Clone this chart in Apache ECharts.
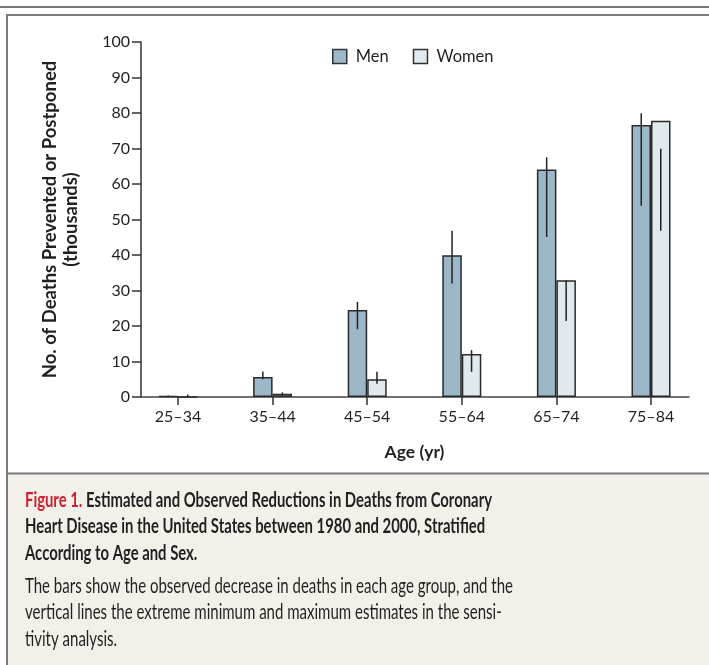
<!DOCTYPE html>
<html>
<head>
<meta charset="utf-8">
<script src="https://cdn.jsdelivr.net/npm/echarts@6/dist/echarts.min.js"></script>
<style>
html,body{margin:0;padding:0;background:#fff;}
#chart{width:709px;height:665px;}
</style>
</head>
<body>
<div id="chart"></div>
<script>
// ---- data ----
const categories = ['25–34', '35–44', '45–54', '55–64', '65–74', '75–84'];
const men        = [0.3, 5.6, 24.5, 39.9, 64.1, 76.6];
const women      = [0, 0.9, 5.0, 12.1, 32.9, 77.8];
const menLow     = [0.1, 5.0, 19.1, 32.0, 45.1, 53.9];
const menHigh    = [0.4, 7.2, 26.8, 46.8, 67.5, 79.9];
const womenLow   = [0.1, 0.0, 3.7, 7.1, 21.4, 46.8];
const womenHigh  = [0.7, 1.3, 7.1, 13.2, 32.9, 69.9];
const yTicks     = { min: 0, max: 100, interval: 10 };

const captionBold = [
  ['Figure 1.', ' Estimated and Observed Reductions in Deaths from Coronary'],
  ['', 'Heart Disease in the United States between 1980 and 2000, Stratified'],
  ['', 'According to Age and Sex.']
];
const captionText = [
  'The bars show the observed decrease in deaths in each age group, and the',
  'vertical lines the extreme minimum and maximum estimates in the sensi-',
  'tivity analysis.'
];

// ---- layout constants ----
const FONT = 'Lato';
const BAR_W = 19.5;
const plotTop = 42, plotH = 355;
const axisLeft = 141, axisW = 548;
const bandLeft = 130.7, bandW = 567.6;
const CAP_FS = 20.5;

const chart = echarts.init(document.getElementById('chart'), null, { renderer: 'canvas' });

// width fitting for caption (condensed look)
const mctx = document.createElement('canvas').getContext('2d');
mctx.font = 'bold ' + CAP_FS + 'px ' + FONT;
const boldScale = 467 / mctx.measureText(captionBold[0][0] + captionBold[0][1]).width;
mctx.font = CAP_FS + 'px ' + FONT;
const regScale = 488 / mctx.measureText(captionText[0]).width;

const capGraphics = [];
const boldYs = [500, 526.5, 553];
captionBold.forEach((ln, i) => {
  capGraphics.push({
    type: 'text', x: 25, y: boldYs[i], scaleX: boldScale, z: 10,
    style: {
      text: (ln[0] ? '{r|' + ln[0] + '}' : '') + '{b|' + ln[1] + '}',
      verticalAlign: 'middle', align: 'left',
      rich: {
        r: { fontFamily: FONT, fontWeight: 'bold', fontSize: CAP_FS, fill: '#cc1f2f' },
        b: { fontFamily: FONT, fontWeight: 'bold', fontSize: CAP_FS, fill: '#231f20' }
      }
    }
  });
});
const regYs = [586, 612.5, 639];
captionText.forEach((t, i) => {
  capGraphics.push({
    type: 'text', x: 25, y: regYs[i], scaleX: regScale, z: 10,
    style: { text: t, fontFamily: FONT, fontSize: CAP_FS, fill: '#231f20', verticalAlign: 'middle', align: 'left' }
  });
});

function errRender(side) {
  return function (params, api) {
    const lo = api.coord([api.value(0), api.value(1)]);
    const hi = api.coord([api.value(0), api.value(2)]);
    const off = side * BAR_W / 2;
    return {
      type: 'line',
      shape: { x1: lo[0] + off, y1: lo[1], x2: hi[0] + off, y2: hi[1] },
      style: { stroke: '#222', lineWidth: 1.5 }
    };
  };
}

const option = {
  animation: false,
  backgroundColor: '#ffffff',
  textStyle: { fontFamily: FONT },
  graphic: [
    { type: 'rect', shape: { x: 0, y: 6, width: 709, height: 2 }, style: { fill: '#777' }, z: -10 },
    { type: 'rect', shape: { x: 8, y: 474, width: 720, height: 220 }, style: { fill: '#f3f0ea' }, z: -10 },
    { type: 'rect', shape: { x: 7, y: 15, width: 720, height: 700 }, style: { fill: 'none', stroke: '#7a7a7a', lineWidth: 2 }, z: -5 },
    { type: 'line', shape: { x1: 7, y1: 473.5, x2: 720, y2: 473.5 }, style: { stroke: '#7a7a7a', lineWidth: 2 }, z: -5 }
  ].concat(capGraphics),
  legend: {
    left: 327, top: 43,
    itemWidth: 14, itemHeight: 14, itemGap: 24,
    icon: 'rect',
    data: ['Men', 'Women'],
    itemStyle: { borderColor: '#333', borderWidth: 1.5 },
    textStyle: { fontFamily: FONT, fontSize: 16.5, color: '#231f20', padding: [0, 0, 0, 4] }
  },
  grid: [
    { left: axisLeft, top: plotTop, width: axisW, height: plotH },
    { left: bandLeft, top: plotTop, width: bandW, height: plotH }
  ],
  xAxis: [
    {
      gridIndex: 0, type: 'value', min: 0, max: 1,
      axisLine: { show: true, lineStyle: { color: '#444', width: 1.5 } },
      axisTick: { show: false }, axisLabel: { show: false }, splitLine: { show: false }
    },
    {
      gridIndex: 1, type: 'category', data: categories, boundaryGap: true,
      axisLine: { show: false },
      axisTick: { show: true, alignWithLabel: true, length: 8, lineStyle: { color: '#333', width: 1.5 } },
      axisLabel: { fontFamily: FONT, fontSize: 16, color: '#231f20', margin: 12 },
      name: 'Age (yr)', nameLocation: 'middle', nameGap: 46,
      nameTextStyle: { fontFamily: FONT, fontSize: 17.5, fontWeight: 'bold', color: '#231f20' }
    }
  ],
  yAxis: [
    {
      gridIndex: 0, type: 'value', min: yTicks.min, max: yTicks.max, interval: yTicks.interval,
      axisLine: { show: true, lineStyle: { color: '#333', width: 1.5 } },
      axisTick: { show: true, length: 9, lineStyle: { color: '#333', width: 1.5 } },
      axisLabel: { fontFamily: FONT, fontSize: 16, color: '#231f20', margin: 11 },
      splitLine: { show: false },
      name: 'No. of Deaths Prevented or Postponed\n(thousands)',
      nameLocation: 'middle', nameRotate: 90, nameGap: 59,
      nameTextStyle: { fontFamily: FONT, fontSize: 18.5, fontWeight: 'bold', color: '#231f20', lineHeight: 21, align: 'center' }
    },
    { gridIndex: 1, type: 'value', min: yTicks.min, max: yTicks.max, show: false }
  ],
  series: [
    {
      name: 'Men', type: 'bar', xAxisIndex: 1, yAxisIndex: 1, data: men,
      barWidth: BAR_W, barGap: '0%',
      itemStyle: { color: '#9cb7c8', borderColor: '#2a2a2a', borderWidth: 1.5 }
    },
    {
      name: 'Women', type: 'bar', xAxisIndex: 1, yAxisIndex: 1, data: women,
      barWidth: BAR_W, barGap: '0%',
      itemStyle: { color: '#dfe9ee', borderColor: '#2a2a2a', borderWidth: 1.5 }
    },
    {
      name: 'menErr', type: 'custom', xAxisIndex: 1, yAxisIndex: 1, z: 5,
      data: categories.map((c, i) => [i, menLow[i], menHigh[i]]),
      renderItem: errRender(-1)
    },
    {
      name: 'womenErr', type: 'custom', xAxisIndex: 1, yAxisIndex: 1, z: 5,
      data: categories.map((c, i) => [i, womenLow[i], womenHigh[i]]),
      renderItem: errRender(1)
    }
  ]
};
chart.setOption(option);
</script>
</body>
</html>
